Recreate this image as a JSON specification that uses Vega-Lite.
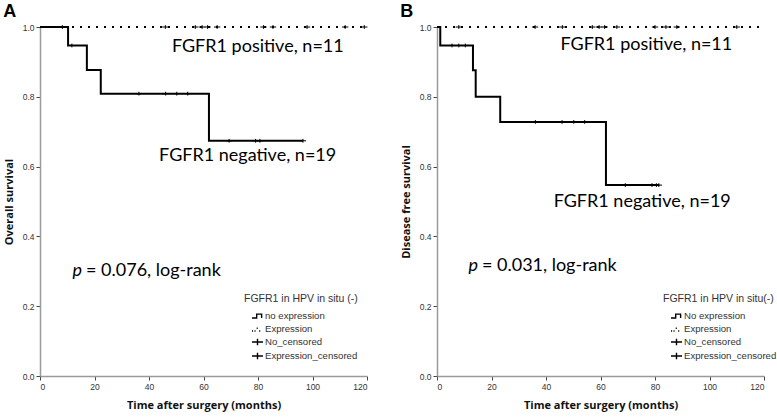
{
  "$schema": "https://vega.github.io/schema/vega-lite/v6.json",
  "background": "white",
  "padding": {"left": 3, "top": 3, "right": 5, "bottom": 5},
  "spacing": 29,
  "config": {
    "view": {"stroke": null},
    "axis": {
      "grid": false,
      "domainColor": "#9a9a9a",
      "domainWidth": 1.5,
      "tickColor": "#444",
      "tickSize": 4,
      "labelFont": "Liberation Sans",
      "labelFontSize": 8.5,
      "labelColor": "#333",
      "titleFont": "Open Sans",
      "titleFontWeight": "bold",
      "titleFontSize": 11,
      "titleColor": "#111"
    },
    "legend": {
      "titleFont": "Liberation Sans",
      "titleFontWeight": "normal",
      "titleFontSize": 10.5,
      "titleColor": "#333",
      "titlePadding": 5,
      "labelFont": "Liberation Sans",
      "labelFontSize": 9.6,
      "labelColor": "#333",
      "labelOffset": 1,
      "symbolOffset": 7,
      "symbolStrokeWidth": 1.4,
      "symbolStrokeColor": "black",
      "symbolFillColor": "transparent",
      "rowPadding": 1
    },
    "title": {"font": "Liberation Sans", "fontSize": 18, "fontWeight": "bold", "color": "black"}
  },
  "datasets": {
    "curveA": [
      {"grp": "neg", "t": 0, "s": 1},
      {"grp": "neg", "t": 10.3, "s": 0.947},
      {"grp": "neg", "t": 17.2, "s": 0.877},
      {"grp": "neg", "t": 22.3, "s": 0.809},
      {"grp": "neg", "t": 62, "s": 0.674},
      {"grp": "neg", "t": 96.5, "s": 0.674}
    ],
    "posA": [
      {"t": 0, "s": 1},
      {"t": 120, "s": 1}
    ],
    "censA": [
      {"t": 11.7, "s": 0.947, "kind": "No_censored"},
      {"t": 36.3, "s": 0.809, "kind": "No_censored"},
      {"t": 46.1, "s": 0.809, "kind": "No_censored"},
      {"t": 50.2, "s": 0.809, "kind": "No_censored"},
      {"t": 54.2, "s": 0.809, "kind": "No_censored"},
      {"t": 69.4, "s": 0.674, "kind": "No_censored"},
      {"t": 79.1, "s": 0.674, "kind": "No_censored"},
      {"t": 80.7, "s": 0.674, "kind": "No_censored"},
      {"t": 96.5, "s": 0.674, "kind": "No_censored"},
      {"t": 8.2, "s": 1, "kind": "Expression_censored"},
      {"t": 46, "s": 1, "kind": "Expression_censored"},
      {"t": 57, "s": 1, "kind": "Expression_censored"},
      {"t": 59.5, "s": 1, "kind": "Expression_censored"},
      {"t": 61.5, "s": 1, "kind": "Expression_censored"},
      {"t": 65, "s": 1, "kind": "Expression_censored"},
      {"t": 82, "s": 1, "kind": "Expression_censored"},
      {"t": 85.5, "s": 1, "kind": "Expression_censored"},
      {"t": 98, "s": 1, "kind": "Expression_censored"},
      {"t": 112, "s": 1, "kind": "Expression_censored"},
      {"t": 119, "s": 1, "kind": "Expression_censored"}
    ],
    "curveB": [
      {"grp": "neg", "t": 0, "s": 1},
      {"grp": "neg", "t": 1.2, "s": 0.947},
      {"grp": "neg", "t": 13.2, "s": 0.876},
      {"grp": "neg", "t": 14.2, "s": 0.8},
      {"grp": "neg", "t": 23.2, "s": 0.728},
      {"grp": "neg", "t": 62, "s": 0.547},
      {"grp": "neg", "t": 81.4, "s": 0.547}
    ],
    "posB": [
      {"t": 0, "s": 1},
      {"t": 120, "s": 1}
    ],
    "censB": [
      {"t": 5.5, "s": 0.947, "kind": "No_censored"},
      {"t": 8, "s": 0.947, "kind": "No_censored"},
      {"t": 10.4, "s": 0.947, "kind": "No_censored"},
      {"t": 36.1, "s": 0.728, "kind": "No_censored"},
      {"t": 45.9, "s": 0.728, "kind": "No_censored"},
      {"t": 50.2, "s": 0.728, "kind": "No_censored"},
      {"t": 54.2, "s": 0.728, "kind": "No_censored"},
      {"t": 69.1, "s": 0.547, "kind": "No_censored"},
      {"t": 78.9, "s": 0.547, "kind": "No_censored"},
      {"t": 80.5, "s": 0.547, "kind": "No_censored"},
      {"t": 81.4, "s": 0.547, "kind": "No_censored"},
      {"t": 8, "s": 1, "kind": "Expression_censored"},
      {"t": 36, "s": 1, "kind": "Expression_censored"},
      {"t": 46, "s": 1, "kind": "Expression_censored"},
      {"t": 57, "s": 1, "kind": "Expression_censored"},
      {"t": 59.5, "s": 1, "kind": "Expression_censored"},
      {"t": 61.5, "s": 1, "kind": "Expression_censored"},
      {"t": 66, "s": 1, "kind": "Expression_censored"},
      {"t": 80, "s": 1, "kind": "Expression_censored"},
      {"t": 84, "s": 1, "kind": "Expression_censored"},
      {"t": 88, "s": 1, "kind": "Expression_censored"},
      {"t": 110, "s": 1, "kind": "Expression_censored"}
    ],
    "labelsA": [
      {"t": 48.4, "s": 0.943, "txt": "FGFR1 positive, n=11"},
      {"t": 43.7, "s": 0.631, "txt": "FGFR1 negative, n=19"},
      {"t": 16.9, "s": 0.302, "txt": "= 0.076, log-rank"}
    ],
    "pA": [{"t": 11.9, "s": 0.302, "txt": "p"}],
    "labelsB": [
      {"t": 45.3, "s": 0.949, "txt": "FGFR1 positive, n=11"},
      {"t": 42.8, "s": 0.5, "txt": "FGFR1 negative, n=19"},
      {"t": 16.5, "s": 0.315, "txt": "= 0.031, log-rank"}
    ],
    "pB": [{"t": 11.6, "s": 0.315, "txt": "p"}]
  },
  "hconcat": [
    {
      "width": 327,
      "height": 349,
      "title": {"text": "A", "anchor": "start", "frame": "bounds", "offset": 2},
      "encoding": {
        "x": {"field": "t", "type": "quantitative", "scale": {"domain": [0, 120], "nice": false}, "axis": {"values": [0, 20, 40, 60, 80, 100, 120], "title": "Time after surgery  (months)", "titlePadding": 9, "labelPadding": 2}},
        "y": {"field": "s", "type": "quantitative", "scale": {"domain": [0, 1], "nice": false}, "axis": {"values": [0, 0.2, 0.4, 0.6, 0.8, 1.0], "format": ".1f", "title": "Overall survival", "titlePadding": 8, "labelPadding": 2}}
      },
      "layer": [
        {"data": {"name": "posA"}, "mark": {"type": "line", "color": "black", "strokeWidth": 1.8, "strokeDash": [2, 6]}, "encoding": {}},
        {"data": {"name": "curveA"}, "mark": {"type": "line", "color": "black", "strokeWidth": 2, "interpolate": "step-after"}, "encoding": {}},
        {
          "data": {"name": "censA"},
          "mark": {"type": "point", "filled": false, "color": "black", "strokeWidth": 1, "size": 40, "opacity": 1},
          "encoding": {
            "shape": {
              "field": "kind", "type": "nominal",
              "scale": {
                "domain": ["no expression", "Expression", "No_censored", "Expression_censored"],
                "range": [
                  "M-1,0.35L-0.15,0.35L-0.15,-0.35L0.75,-0.35L0.75,0.35",
                  "M-1,0.35L-0.8,0.35M-0.55,0.35L-0.35,0.35M-0.15,-0.15L0.05,-0.15M0.3,0.35L0.5,0.35",
                  "M-1,0L1,0M0,-0.6L0,0.6",
                  "M-1,0L1,0M0,-0.6L0,0.6"
                ]
              },
              "legend": {"title": "FGFR1 in HPV in situ (-)", "orient": "none", "legendX": 204, "legendY": 267, "symbolSize": 121, "encode": {"symbols": {"update": {"size": {"value": 121}, "strokeWidth": {"value": 1.4}}}}}
            }
          }
        },
        {"data": {"name": "labelsA"}, "mark": {"type": "text", "align": "left", "baseline": "middle", "font": "Lato", "fontSize": 18, "color": "black"}, "encoding": {"text": {"field": "txt"}}},
        {"data": {"name": "pA"}, "mark": {"type": "text", "align": "left", "baseline": "middle", "font": "Lato", "fontSize": 18, "fontStyle": "italic", "color": "black"}, "encoding": {"text": {"field": "txt"}}}
      ]
    },
    {
      "width": 327,
      "height": 349,
      "title": {"text": "B", "anchor": "start", "frame": "bounds", "offset": 2},
      "encoding": {
        "x": {"field": "t", "type": "quantitative", "scale": {"domain": [0, 120], "nice": false}, "axis": {"values": [0, 20, 40, 60, 80, 100, 120], "title": "Time after surgery (months)", "titlePadding": 9, "labelPadding": 2}},
        "y": {"field": "s", "type": "quantitative", "scale": {"domain": [0, 1], "nice": false}, "axis": {"values": [0, 0.2, 0.4, 0.6, 0.8, 1.0], "format": ".1f", "title": "Disease free survival", "titlePadding": 8, "labelPadding": 2}}
      },
      "layer": [
        {"data": {"name": "posB"}, "mark": {"type": "line", "color": "black", "strokeWidth": 1.8, "strokeDash": [2, 6]}, "encoding": {}},
        {"data": {"name": "curveB"}, "mark": {"type": "line", "color": "black", "strokeWidth": 2, "interpolate": "step-after"}, "encoding": {}},
        {
          "data": {"name": "censB"},
          "mark": {"type": "point", "filled": false, "color": "black", "strokeWidth": 1, "size": 40, "opacity": 1},
          "encoding": {
            "shape": {
              "field": "kind", "type": "nominal",
              "scale": {
                "domain": ["No expression", "Expression", "No_censored", "Expression_censored"],
                "range": [
                  "M-1,0.35L-0.15,0.35L-0.15,-0.35L0.75,-0.35L0.75,0.35",
                  "M-1,0.35L-0.8,0.35M-0.55,0.35L-0.35,0.35M-0.15,-0.15L0.05,-0.15M0.3,0.35L0.5,0.35",
                  "M-1,0L1,0M0,-0.6L0,0.6",
                  "M-1,0L1,0M0,-0.6L0,0.6"
                ]
              },
              "legend": {"title": "FGFR1 in HPV in situ(-)", "orient": "none", "legendX": 226, "legendY": 267, "symbolSize": 121, "encode": {"symbols": {"update": {"size": {"value": 121}, "strokeWidth": {"value": 1.4}}}}}
            }
          }
        },
        {"data": {"name": "labelsB"}, "mark": {"type": "text", "align": "left", "baseline": "middle", "font": "Lato", "fontSize": 18, "color": "black"}, "encoding": {"text": {"field": "txt"}}},
        {"data": {"name": "pB"}, "mark": {"type": "text", "align": "left", "baseline": "middle", "font": "Lato", "fontSize": 18, "fontStyle": "italic", "color": "black"}, "encoding": {"text": {"field": "txt"}}}
      ]
    }
  ],
  "resolve": {"scale": {"shape": "independent"}, "legend": {"shape": "independent"}}
}
